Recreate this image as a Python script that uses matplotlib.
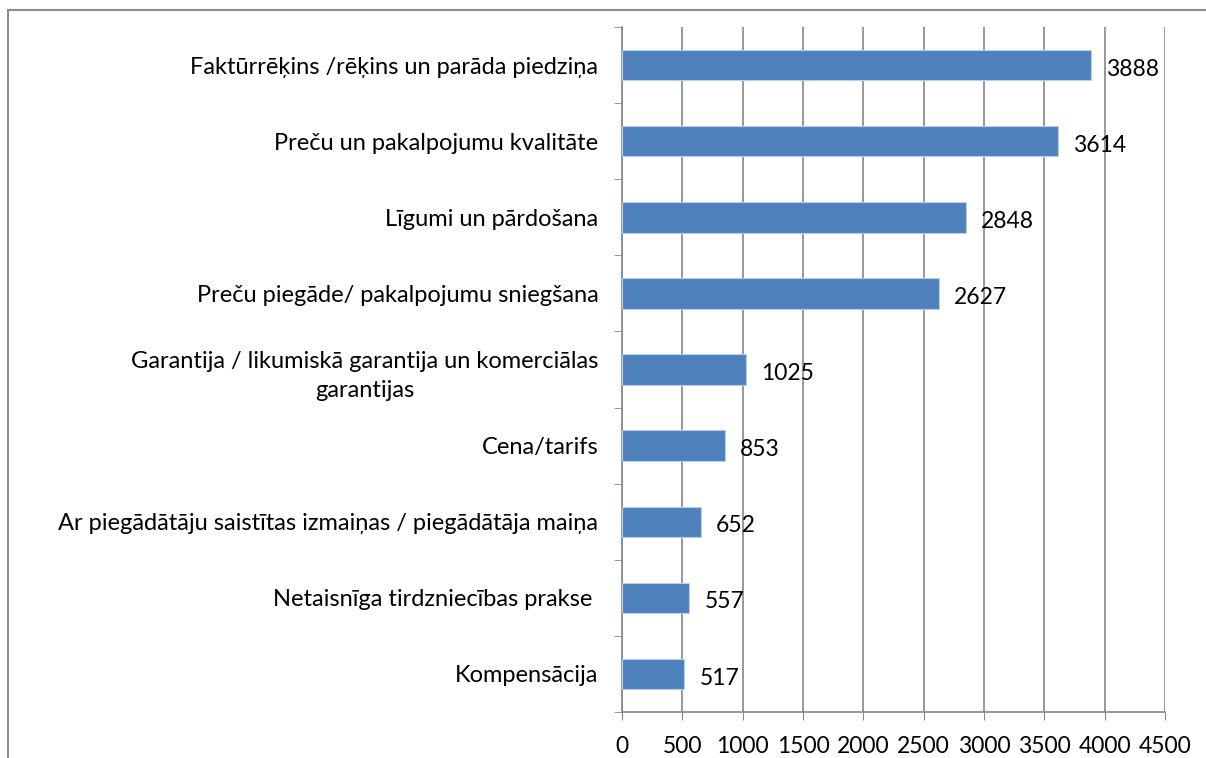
import matplotlib.pyplot as plt
from matplotlib.patches import Rectangle

categories = [
    "Faktūrrēķins /rēķins un parāda piedziņa",
    "Preču un pakalpojumu kvalitāte",
    "Līgumi un pārdošana",
    "Preču piegāde/ pakalpojumu sniegšana",
    "Garantija / likumiskā garantija un komerciālas\ngarantijas",
    "Cena/tarifs",
    "Ar piegādātāju saistītas izmaiņas / piegādātāja maiņa",
    "Netaisnīga tirdzniecības prakse ",
    "Kompensācija",
]
values = [3888, 3614, 2848, 2627, 1025, 853, 652, 557, 517]
xticks = [0, 500, 1000, 1500, 2000, 2500, 3000, 3500, 4000, 4500]

plt.rcParams['font.family'] = ['Lato', 'DejaVu Sans']

fig = plt.figure(figsize=(12.06, 7.58), dpi=100)
ax = fig.add_axes([622/1206, 1 - 712/758, (1165-622)/1206, (712-27)/758])

pos = list(range(len(values)))[::-1]
ax.barh(pos, values, height=0.4, color='#4F81BD', edgecolor='#B9CDE5', linewidth=0.8, zorder=3)

for p, v in zip(pos, values):
    ax.annotate(str(v), (v, p), xytext=(11, -3), textcoords='offset points',
                va='center', ha='left', fontsize=16.5, zorder=4)

ax.set_xlim(0, 4500)
ax.set_ylim(-0.5, len(values) - 0.5)
ax.set_xticks(xticks)
ax.set_xticklabels([str(t) for t in xticks], fontsize=16.5)
ax.set_yticks(pos)
ax.set_yticklabels(categories, fontsize=17, multialignment='center', linespacing=1.5)
ax.set_yticks([p + 0.5 for p in range(-1, len(values))], minor=True)
ax.tick_params(axis='y', which='major', length=0, pad=17)
ax.tick_params(axis='y', which='minor', length=6, color='#868686', direction='out')
ax.tick_params(axis='x', length=6, color='#868686', pad=11)
ax.grid(axis='x', color='#868686', linewidth=1.2, zorder=0)

for s in ['top', 'right']:
    ax.spines[s].set_visible(False)
for s in ['left', 'bottom']:
    ax.spines[s].set_color('#868686')
    ax.spines[s].set_linewidth(1.2)

fig.patches.append(Rectangle((8/1206, -0.05), 1.1, 1 - 10/758 + 0.05, transform=fig.transFigure,
                             fill=False, edgecolor='#8C8C8C', linewidth=1.5))

fig.savefig('out.png', dpi=100)
